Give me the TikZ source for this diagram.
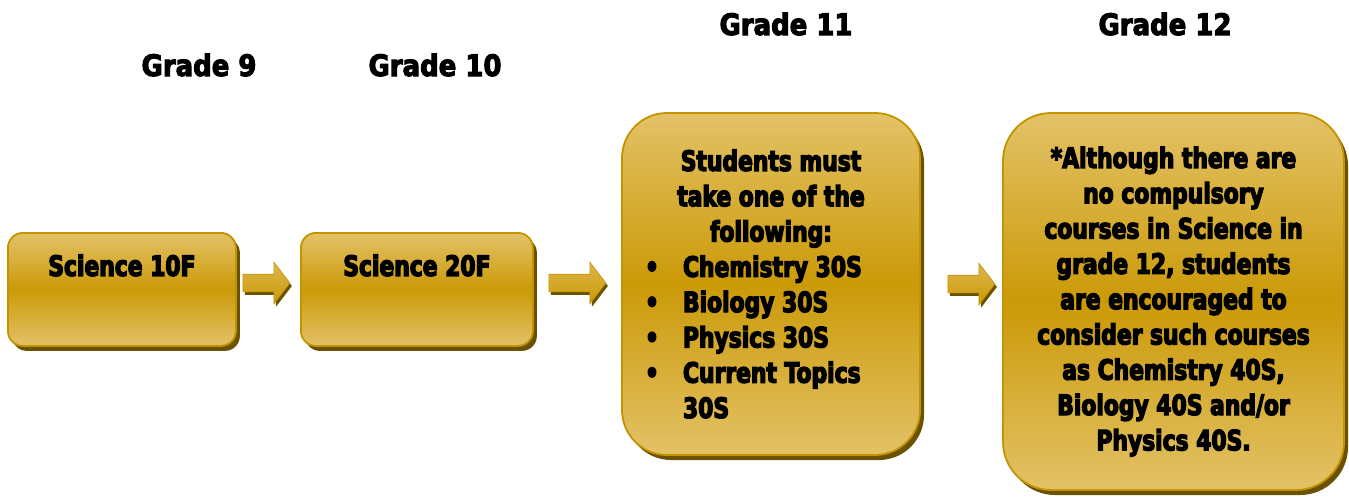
\documentclass[tikz,border=0pt]{standalone}
\usepackage{fontspec}
\newfontfamily\gradefont{DejaVu Sans Bold}[FakeStretch=0.88,FakeBold=3.5]
\newfontfamily\boxfont{DejaVu Sans Bold}[FakeStretch=0.78,FakeBold=4.5]
\usetikzlibrary{positioning, shapes.arrows, shadows}
\definecolor{goldlight}{HTML}{E3C267}
\definecolor{golddark}{HTML}{CB9A08}
\definecolor{goldedge}{HTML}{C39300}
\definecolor{goldshade}{HTML}{6B5200}
\newcommand{\courseitem}[1]{\makebox[252pt][l]{\makebox[38pt][l]{•}#1}}

\begin{document}
\begin{tikzpicture}[x=1pt, y=-1pt]
\tikzset{
gradebox/.style={draw=goldedge, line width=1.8pt, top color=goldlight, bottom color=goldlight, middle color=golddark, drop shadow={shadow xshift=4pt, shadow yshift=-5pt, fill=goldshade, opacity=1}, font={\boxfont\fontsize{28}{35.3}\selectfont}, inner sep=0pt}, % the gold course boxes
blockarrow/.style={single arrow, single arrow head extend=12pt, single arrow tip angle=105, minimum height=47pt, inner xsep=0pt, inner ysep=8.5pt, draw=goldedge, line width=0.6pt, top color=goldlight!70!golddark, bottom color=golddark, drop shadow={shadow xshift=2pt, shadow yshift=-3pt, fill=goldshade, opacity=1}}, % fat arrows between the boxes
heading/.style={font={\gradefont\fontsize{29.5}{32}\selectfont}, anchor=base, inner sep=0pt}, % grade titles
}
\useasboundingbox (0,0) rectangle (1349,498);

	% grade titles
	\node[heading] (h9) at (199,76) {Grade 9};
	\node[heading] (h10) at (435,76) {Grade 10};
	\node[heading] (h11) at (786,35) {Grade 11};
	\node[heading] (h12) at (1165,35) {Grade 12};

	% course boxes
	\node[gradebox, rounded corners=15pt, anchor=north west, minimum width=228pt, text height=43pt, text depth=70pt] (b9) at (7,232) {Science 10F};
	\node[gradebox, rounded corners=15pt, anchor=north west, minimum width=232pt, text height=43pt, text depth=70pt] (b10) at (300,232) {Science 20F};
	\node[gradebox, rounded corners=45pt, minimum width=298pt, minimum height=342pt, align=center] (b11) at (771,284) {Students must\\ take one of the\\ following:\\ \courseitem{Chemistry 30S}\\ \courseitem{Biology 30S}\\ \courseitem{Physics 30S}\\ \courseitem{Current Topics}\\ \makebox[252pt][l]{\hspace*{38pt}30S}};
	\node[gradebox, rounded corners=48pt, minimum width=341pt, minimum height=377pt, align=center] (b12) at (1173.5,301.5) {*Although there are\\ no compulsory\\ courses in Science in\\ grade 12, students\\ are encouraged to\\ consider such courses\\ as Chemistry 40S,\\ Biology 40S and/or\\ Physics 40S.};

	% arrows
	\node[blockarrow] (a1) at (263,283) {};
	\node[blockarrow, minimum height=57pt] (a2) at (574,283) {};
	\node[blockarrow] (a3) at (968,284) {};
\end{tikzpicture}
\end{document}
